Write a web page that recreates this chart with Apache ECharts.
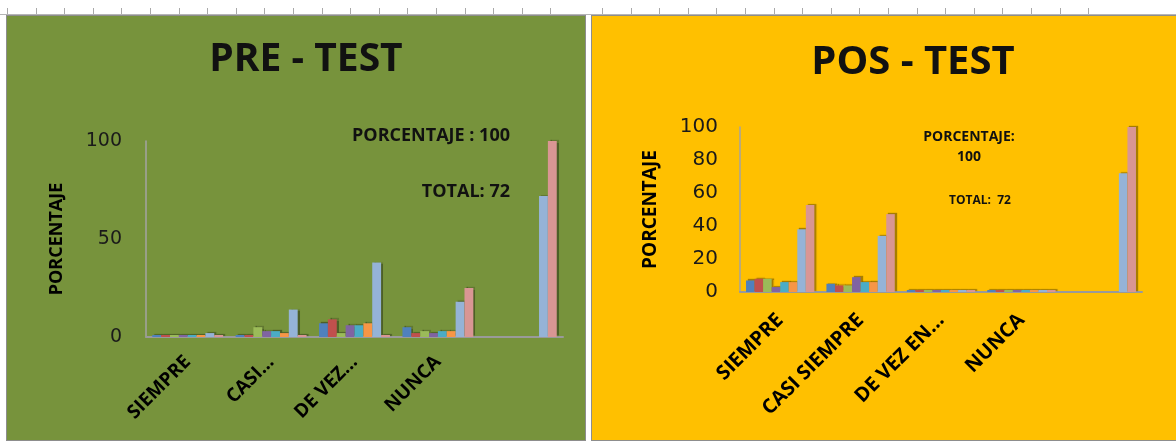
<!DOCTYPE html>
<html>
<head>
<meta charset="utf-8">
<script src="https://cdn.jsdelivr.net/npm/echarts@6/dist/echarts.min.js"></script>
<style>
  html, body { margin: 0; padding: 0; background: #fff; }
  #wrap { position: relative; width: 1176px; height: 441px; overflow: hidden; background: #fff; }
  .ruler { position: absolute; top: 8px; height: 6px;
    background: repeating-linear-gradient(to right, #a9a9a9 0 1px, transparent 1px 28.6px); }
  .rule-line { position: absolute; left: 0; top: 14px; width: 1176px; height: 1px; background: #b5b5b5; }
  .panel { position: absolute; top: 15px; height: 426px; box-sizing: border-box; border: 1px solid #8d8d8d; }
  #chart { position: absolute; left: 0; top: 0; width: 1176px; height: 441px; }
</style>
</head>
<body>
<div id="wrap">
  <div class="ruler" style="left:7px;width:572px"></div>
  <div class="ruler" style="left:602px;width:514px"></div>
  <div class="rule-line"></div>
  <div class="panel" style="left:6px;width:580px;background:#77933C"></div>
  <div class="panel" style="left:591px;width:586px;background:#FFC000"></div>
  <div id="chart"></div>
</div>
<script>
// categories (the 5th column only carries the total / percentage bars)
const preLabels = ['SIEMPRE', 'CASI...', 'DE VEZ...', 'NUNCA', '']
const posLabels = ['SIEMPRE', 'CASI SIEMPRE', 'DE VEZ EN...', 'NUNCA', '']

const seriesNames = ['Ítem 1', 'Ítem 2', 'Ítem 3', 'Ítem 4', 'Ítem 5', 'Ítem 6', 'TOTAL', 'PORCENTAJE']
const seriesColors = ['#4F81BD', '#C0504D', '#9BBB59', '#8064A2', '#4BACC6', '#F79646', '#95B3D7', '#D99694']

// PRE - TEST
const preItem1 = [0, 0, 7, 5, null]
const preItem2 = [0, 1, 9, 2, null]
const preItem3 = [1, 5, 2, 3, null]
const preItem4 = [1, 3, 6, 2, null]
const preItem5 = [0, 3, 6, 3, null]
const preItem6 = [0, 2, 7, 3, null]
const preTotal = [2, 14, 38, 18, 72]
const prePct = [0, 0, 0, 25, 100]

// POS - TEST
const posItem1 = [7, 5, 0, 0, null]
const posItem2 = [8, 4, 0, 0, null]
const posItem3 = [8, 4, 0, 0, null]
const posItem4 = [3, 9, 0, 0, null]
const posItem5 = [6, 6, 0, 0, null]
const posItem6 = [6, 6, 0, 0, null]
const posTotal = [38, 34, 0, 0, 72]
const posPct = [52.8, 47.2, 0, 0, 100]

const preData = [preItem1, preItem2, preItem3, preItem4, preItem5, preItem6, preTotal, prePct]
const posData = [posItem1, posItem2, posItem3, posItem4, posItem5, posItem6, posTotal, posPct]

const FONT = '"Open Sans", "DejaVu Sans", sans-serif'

const makeSeries = (data, axisIdx) => data.map((vals, i) => ({
  name: seriesNames[i],
  type: 'bar',
  xAxisIndex: axisIdx,
  yAxisIndex: axisIdx,
  data: vals,
  barGap: '0%',
  barCategoryGap: '15%',
  barMinHeight: 2,
  itemStyle: {
    color: seriesColors[i],
    shadowColor: 'rgba(0,0,0,0.35)',
    shadowOffsetX: 2,
    shadowOffsetY: -1,
    shadowBlur: 1
  }
}))

const xAxisCommon = (labels, size, margin) => ({
  type: 'category',
  data: labels,
  axisTick: { show: false },
  axisLine: { lineStyle: { color: '#9a9a9a', width: 2 } },
  axisLabel: {
    interval: 0,
    rotate: 45,
    margin: margin,
    color: '#000',
    fontFamily: FONT,
    fontWeight: 'bold',
    fontSize: size
  }
})

const yAxisCommon = (interval, nameSize, labelSize, labelMargin, gap) => ({
  type: 'value',
  min: 0,
  max: 100,
  interval: interval,
  name: 'PORCENTAJE',
  nameLocation: 'middle',
  nameGap: gap,
  nameTextStyle: { color: '#000', fontFamily: FONT, fontWeight: 'bold', fontSize: nameSize },
  splitLine: { show: false },
  axisTick: { show: false },
  axisLine: { show: true, lineStyle: { color: '#a3a3a3', width: 1.5 } },
  axisLabel: { color: '#1a1a1a', fontFamily: '"DejaVu Sans", sans-serif', fontSize: labelSize, margin: labelMargin }
})

const chart = echarts.init(document.getElementById('chart'), null, { renderer: 'canvas' })

chart.setOption({
  animation: false,
  grid: [
    { left: 146, right: 613, top: 141, bottom: 104 },
    { left: 740, right: 34, top: 127, bottom: 149 }
  ],
  xAxis: [
    Object.assign(xAxisCommon(preLabels, 19, 22), { gridIndex: 0 }),
    Object.assign(xAxisCommon(posLabels, 20, 25), { gridIndex: 1 })
  ],
  yAxis: [
    Object.assign(yAxisCommon(50, 18, 19, 24, 80), { gridIndex: 0 }),
    Object.assign(yAxisCommon(20, 19, 20, 22, 80), { gridIndex: 1 })
  ],
  series: makeSeries(preData, 0).concat(makeSeries(posData, 1)),
  graphic: [
    { type: 'text', x: 306, y: 60, style: { text: 'PRE - TEST', font: 'bold 39px ' + FONT, fill: '#111', align: 'center', verticalAlign: 'middle' } },
    { type: 'text', x: 913, y: 63, style: { text: 'POS - TEST', font: 'bold 40px ' + FONT, fill: '#111', align: 'center', verticalAlign: 'middle' } },
    { type: 'text', x: 510, y: 136, style: { text: 'PORCENTAJE : 100', font: 'bold 18px ' + FONT, fill: '#111', align: 'right', verticalAlign: 'middle' } },
    { type: 'text', x: 510, y: 192, style: { text: 'TOTAL: 72', font: 'bold 18px ' + FONT, fill: '#111', align: 'right', verticalAlign: 'middle' } },
    { type: 'text', x: 969, y: 147, style: { text: 'PORCENTAJE:\n100', font: 'bold 14px ' + FONT, lineHeight: 20, fill: '#111', align: 'center', verticalAlign: 'middle' } },
    { type: 'text', x: 980, y: 201, style: { text: 'TOTAL:  72', font: 'bold 12px ' + FONT, fill: '#111', align: 'center', verticalAlign: 'middle' } }
  ]
})

window.addEventListener('resize', () => chart.resize())
</script>
</body>
</html>
